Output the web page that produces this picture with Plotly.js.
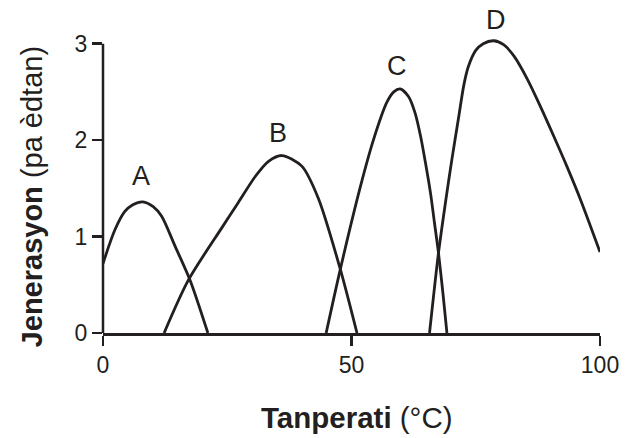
<!DOCTYPE html>
<html>
<head>
<meta charset="utf-8">
<script src="https://cdn.plot.ly/plotly-3.0.1.min.js"></script>
<style>html,body{margin:0;padding:0;background:#fff;}#chart{width:638px;height:438px;}</style>
</head>
<body>
<div id="chart"></div>
<script>
// Temperature (°C) and generations per hour
const tempA = [0, 2.4, 4.4, 6.0, 8.0, 10.1, 11.8, 14.5, 17.5, 21.1];
const genA  = [0.72, 1.07, 1.26, 1.33, 1.36, 1.31, 1.21, 0.90, 0.55, 0];

const tempB = [12.3, 17.2, 23.9, 27.2, 30.6, 33.3, 36.0, 40.0, 43.3, 47.7, 51.1];
const genB  = [0, 0.55, 1.09, 1.35, 1.62, 1.78, 1.84, 1.73, 1.40, 0.67, 0];

const tempC = [44.9, 47.7, 51.8, 54.4, 57.1, 58.5, 59.8, 61.5, 62.8, 63.9, 64.9, 65.9, 66.7, 67.5, 68.4, 69.2];
const genC  = [0, 0.65, 1.52, 2.0, 2.39, 2.50, 2.53, 2.45, 2.28, 2.04, 1.76, 1.45, 1.14, 0.83, 0.41, 0];

const tempD = [65.7, 67.5, 68.9, 70.2, 71.6, 72.6, 73.5, 75.0, 76.5, 78.6, 80.6, 82.7, 85.4, 88.0, 90.7, 93.4, 96.1, 100];
const genD  = [0, 0.83, 1.35, 1.80, 2.25, 2.57, 2.76, 2.93, 3.0, 3.03, 2.99, 2.87, 2.63, 2.35, 2.04, 1.72, 1.38, 0.84];

const curveLabels = ['A', 'B', 'C', 'D'];
const labelX = [7.6, 35.3, 59.2, 79.0];
const labelY = [1.63, 2.07, 2.77, 3.25];

const xTicks = [0, 50, 100];
const yTicks = [0, 1, 2, 3];

const xTitle = '<b>Tanperati</b> (°C)';
const yTitle = '<b>Jenerasyon</b> (pa èdtan)';

const ink = '#231f20';
const font = '"Liberation Sans", Arial, Helvetica, sans-serif';
const yMax = 3.1;

const series = [[tempA, genA], [tempB, genB], [tempC, genC], [tempD, genD]];
const traces = series.map(([x, y], i) => ({
  x: x, y: y, type: 'scatter', mode: 'lines', name: curveLabels[i],
  line: {color: ink, width: 2.8, shape: 'spline', smoothing: 0.8},
  hoverinfo: 'skip'
}));

// curve labels in paper units so the top one (above the axis range) is still drawn
const annotations = curveLabels.map((t, i) => ({
  x: labelX[i], y: labelY[i] / yMax, xref: 'x', yref: 'paper', text: t, showarrow: false,
  xanchor: 'center', yanchor: 'middle',
  font: {family: font, size: 27, color: ink}
}));
annotations.push({
  x: 0.511, y: -0.284, xref: 'paper', yref: 'paper', text: xTitle, showarrow: false,
  xanchor: 'center', yanchor: 'middle',
  font: {family: font, size: 29.5, color: ink}
});
annotations.push({
  x: -0.142, y: 0.455, xref: 'paper', yref: 'paper', text: yTitle, showarrow: false,
  textangle: -90, xanchor: 'center', yanchor: 'middle',
  font: {family: font, size: 29, color: ink}
});

const layout = {
  width: 638, height: 438,
  margin: {l: 103, r: 38, t: 34, b: 105, pad: 0},
  paper_bgcolor: '#fff', plot_bgcolor: '#fff',
  showlegend: false,
  font: {family: font, color: ink},
  xaxis: {
    range: [0, 100], tickvals: xTicks, ticktext: xTicks.map(String),
    ticks: 'outside', ticklen: 10, tickwidth: 2.5, tickcolor: ink,
    showline: true, linewidth: 2.5, linecolor: ink,
    showgrid: false, zeroline: false,
    tickfont: {family: font, size: 23, color: ink}
  },
  yaxis: {
    range: [0, yMax], tickvals: yTicks, ticktext: yTicks.map(String),
    ticks: 'outside', ticklen: 10, tickwidth: 2.5, tickcolor: ink,
    showline: false, showgrid: false, zeroline: false,
    tickfont: {family: font, size: 23, color: ink}
  },
  shapes: [{
    type: 'line', xref: 'paper', yref: 'y', x0: 0, x1: 0, y0: 0, y1: 3,
    line: {color: ink, width: 2.5}
  }],
  annotations: annotations
};

Plotly.newPlot('chart', traces, layout, {staticPlot: true, displayModeBar: false});
</script>
</body>
</html>
